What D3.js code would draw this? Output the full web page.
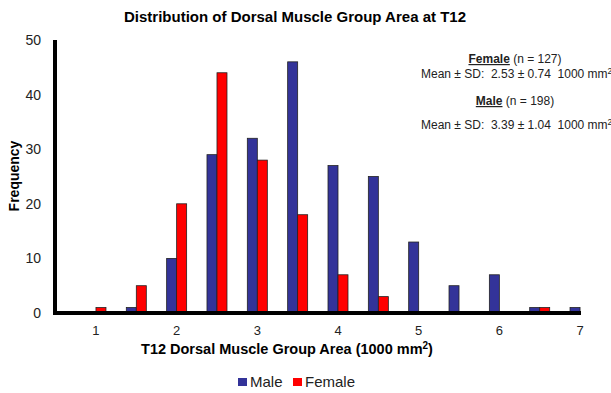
<!DOCTYPE html>
<html>
<head>
<meta charset="utf-8">
<script src="https://cdn.jsdelivr.net/npm/d3@7"></script>
<style>
  body { margin: 0; background: #fff; }
  text { font-family: "Liberation Sans", Arial, sans-serif; }
</style>
</head>
<body>
<script>
const width = 611, height = 393;

// bins of T12 dorsal muscle group area (1000 mm2)
const bins = ["1","1.5","2","2.5","3","3.5","4","4.5","5","5.5","6","6.5","7"];
const male = [0,1,10,29,32,46,27,25,13,5,7,1,1];
const female = [1,5,20,44,28,18,7,3,0,0,0,1,0];
const groups = ["Male","Female"];
const colors = ["#333399","#ff0000"];
const yTicks = [0,10,20,30,40,50];
const xTicks = ["1","2","3","4","5","6","7"];

const svg = d3.select("body")
    .append("svg")
    .attr("width",width)
    .attr("height",height);

const x = d3.scaleBand()
    .domain(bins)
    .range([75.8, 600.2]);

const xSub = d3.scaleBand()
    .domain(groups)
    .range([x.bandwidth()/2 - 10, x.bandwidth()/2 + 10]);

const y = d3.scaleLinear()
    .domain([0,50])
    .range([313,40]);

// bars
const rows = bins.map((b,i) => ({bin:b, values:[male[i], female[i]]}));

svg.selectAll(".grp")
    .data(rows)
    .enter()
    .append("g")
    .attr("transform", d => `translate(${x(d.bin)},0)`)
    .selectAll("rect")
    .data(d => d.values.map((v,j) => ({g:groups[j], v:v, c:colors[j]})))
    .enter()
    .filter(d => d.v > 0)
    .append("rect")
    .attr("x", d => xSub(d.g))
    .attr("width", xSub.bandwidth())
    .attr("y", d => y(d.v))
    .attr("height", d => y(0) - y(d.v))
    .attr("fill", d => d.c)
    .attr("stroke","#222")
    .attr("stroke-width",0.8);

// axes
svg.append("g")
    .attr("transform","translate(55,0)")
    .call(d3.axisLeft(y).tickValues(yTicks).tickSize(0).tickPadding(14))
    .call(g => g.select(".domain").remove())
    .selectAll("text")
    .attr("font-size",14)
    .attr("fill","#222");

svg.append("g")
    .attr("transform","translate(0,313)")
    .call(d3.axisBottom(x).tickValues(xTicks).tickSize(0).tickPadding(13))
    .call(g => g.select(".domain").remove())
    .selectAll("text")
    .attr("font-size",13)
    .attr("fill","#222");

svg.append("path")
    .attr("d","M55,40V313H581")
    .attr("fill","none")
    .attr("stroke","#000")
    .attr("stroke-width",4);

// titles
svg.append("text")
    .attr("x",295).attr("y",22)
    .attr("text-anchor","middle")
    .attr("font-size",15).attr("font-weight","bold")
    .text("Distribution of Dorsal Muscle Group Area at T12");

const xt = svg.append("text")
    .attr("x",287).attr("y",354)
    .attr("text-anchor","middle")
    .attr("font-size",14.5).attr("font-weight","bold");
xt.append("tspan").text("T12 Dorsal Muscle Group Area (1000 mm");
xt.append("tspan").attr("font-size",10).attr("dy",-5).text("2");
xt.append("tspan").attr("dy",5).text(")");

svg.append("text")
    .attr("transform","translate(19,176) rotate(-90)")
    .attr("text-anchor","middle")
    .attr("font-size",14).attr("font-weight","bold")
    .text("Frequency");

// annotations
function header(yPos, name, n) {
    const t = svg.append("text")
        .attr("x",515).attr("y",yPos)
        .attr("text-anchor","middle")
        .attr("font-size",12).attr("fill","#222");
    t.append("tspan").attr("font-weight","bold").attr("text-decoration","underline").text(name);
    t.append("tspan").text(` (n = ${n})`);
}
function stats(yPos, s) {
    const t = svg.append("text")
        .attr("x",421).attr("y",yPos)
        .attr("font-size",12).attr("fill","#222")
        .attr("xml:space","preserve")
        .style("white-space","pre");
    t.append("tspan").text(s);
    t.append("tspan").attr("font-size",8.5).attr("dy",-4).text("2");
}
header(63,"Female",127);
stats(78,"Mean ± SD:  2.53 ± 0.74  1000 mm");
header(105,"Male",198);
stats(129,"Mean ± SD:  3.39 ± 1.04  1000 mm");

// legend
const legend = svg.append("g").attr("transform","translate(238,387)");
const lx = [0,55];
groups.forEach((g,i) => {
    legend.append("rect")
        .attr("x",lx[i]).attr("y",-9)
        .attr("width",9).attr("height",8)
        .attr("fill",colors[i]);
    legend.append("text")
        .attr("x",lx[i]+12).attr("y",0)
        .attr("font-size",15).attr("fill","#222")
        .text(g);
});
</script>
</body>
</html>
